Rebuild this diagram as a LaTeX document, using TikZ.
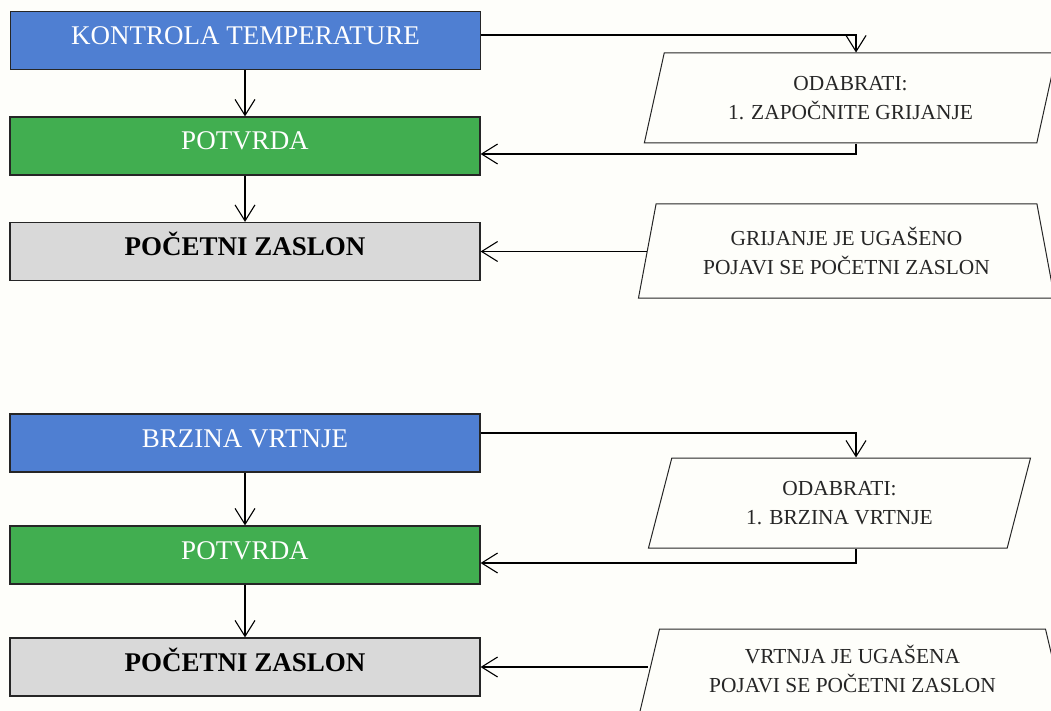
\documentclass[tikz,border=0pt]{standalone}
\usepackage{fontspec}
\setmainfont{Liberation Serif}
\usetikzlibrary{shapes.geometric,arrows.meta}
\definecolor{boxblue}{RGB}{79,127,210}
\definecolor{boxgreen}{RGB}{65,174,80}
\definecolor{boxgray}{RGB}{217,217,217}
\definecolor{paper}{RGB}{254,254,250}
\tikzset{
  menubox/.style={draw=black!85, line width=1.2pt, minimum width=470pt, minimum height=58pt,
    text height=18pt, text depth=10pt, font=\fontsize{27}{32}\selectfont},
  headbox/.style={menubox, fill=boxblue, text=white},
  okbox/.style={menubox, fill=boxgreen, text=white},
  homebox/.style={menubox, fill=boxgray, font=\fontsize{27}{32}\selectfont\bfseries},
  iobox/.style={draw=black!85, line width=1pt, trapezium, trapezium stretches=true,
    align=center, text=black!85, font=\fontsize{21.4}{29}\selectfont},
  choicebox/.style={iobox, trapezium left angle=75, trapezium right angle=105},
  infobox/.style={iobox, trapezium left angle=76, trapezium right angle=76},
}
\begin{document}
\begin{tikzpicture}[x=1pt, y=-1pt, >={Straight Barb[length=16pt,width=20pt]}, line width=1.1pt]
\path[use as bounding box, fill=paper] (0,0) rectangle (1051,711);

% kontrola temperature
\node[headbox] (temp) at (245.5,40.5) {KONTROLA TEMPERATURE};
\node[okbox] (ok1) at (245,146) {POTVRDA};
\node[homebox] (home1) at (245,251.5) {POČETNI ZASLON};
\node[choicebox, minimum width=413pt, minimum height=90pt] (sel1) at (850.5,98) {ODABRATI:\\1. ZAPOČNITE GRIJANJE};
\node[infobox, minimum width=417pt, minimum height=94pt] (off1) at (846.5,251) {GRIJANJE JE UGAŠENO\\POJAVI SE POČETNI ZASLON};

\draw[->] (temp.south -| ok1.north) -- (ok1.north);
\draw[->] (ok1) -- (home1);
\draw[->] ([yshift=5.5pt]temp.east) -| ([xshift=5.5pt]sel1.north);
\draw[->] ([xshift=5.5pt]sel1.south) |- ([yshift=-8pt]ok1.east);
\draw[->] (home1.east -| off1.west) -- (home1.east);

% brzina vrtnje
\node[headbox] (spin) at (245,443) {BRZINA VRTNJE};
\node[okbox] (ok2) at (245,555) {POTVRDA};
\node[homebox] (home2) at (245,667) {POČETNI ZASLON};
\node[choicebox, minimum width=383pt, minimum height=90pt] (sel2) at (839.5,503) {ODABRATI:\\1. BRZINA VRTNJE};
\node[infobox, minimum width=431pt, minimum height=94pt, text depth=14pt] (off2) at (852.5,676) {VRTNJA JE UGAŠENA\\POJAVI SE POČETNI ZASLON};

\draw[->] (spin) -- (ok2);
\draw[->] (ok2) -- (home2);
\draw[->] ([yshift=10pt]spin.east) -| ([xshift=16.5pt]sel2.north);
\draw[->] ([xshift=16.5pt]sel2.south) |- ([yshift=-8pt]ok2.east);
\draw[->] (home2.east -| off2.west) -- (home2.east);
\end{tikzpicture}
\end{document}
